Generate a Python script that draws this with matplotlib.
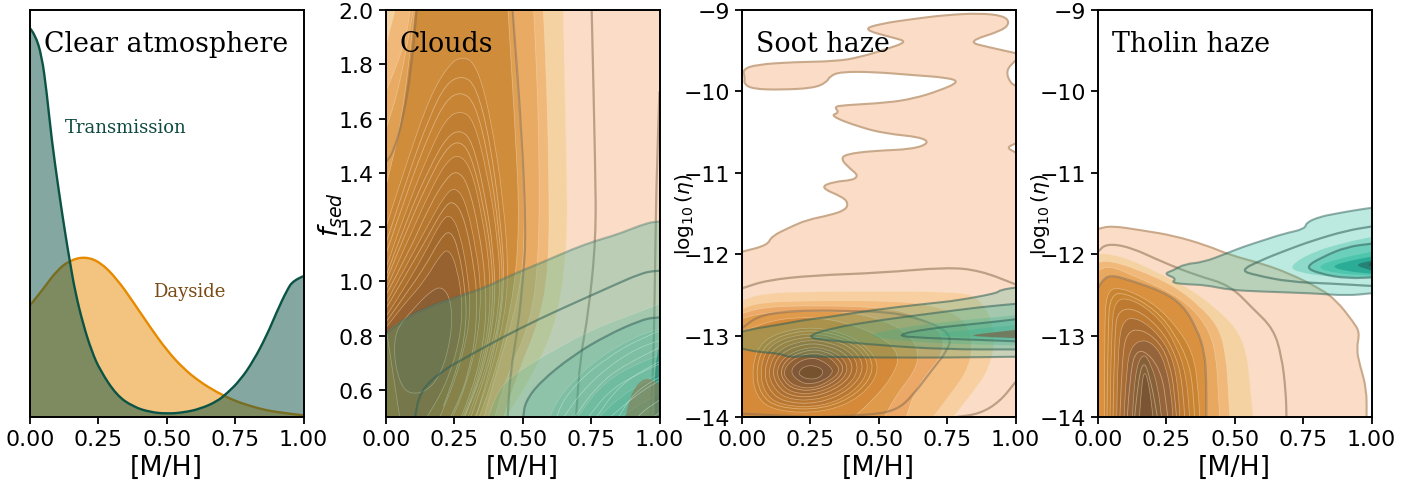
import numpy as np
import matplotlib
matplotlib.use('Agg')
import matplotlib.pyplot as plt
from matplotlib.path import Path
from matplotlib.patches import PathPatch

# left panel, posterior density by eye
mh_trans = [0,.018,.043,.061,.079,.104,.128,.146,.165,.195,.226,.256,.317,.378,.439,.5,.561,.622,.683,.72,.768,.817,.866,.902,.939,.963,1.0]
pdf_trans = [.955,.941,.888,.798,.683,.561,.454,.381,.308,.226,.161,.115,.053,.025,.012,.008,.011,.02,.038,.058,.09,.138,.201,.258,.311,.336,.346]
mh_day = [0,.049,.098,.146,.201,.256,.317,.378,.439,.5,.561,.622,.683,.744,.805,.866,.927,1.0]
pdf_day = [.274,.315,.36,.385,.394,.381,.34,.282,.221,.164,.119,.086,.061,.041,.027,.016,.01,.004]

xticks = [0,.25,.5,.75,1.0]
xticklabels = ['0.00','0.25','0.50','0.75','1.00']
cloud_ticks = [.6,.8,1.0,1.2,1.4,1.6,1.8,2.0]
haze_ticks = [-14,-13,-12,-11,-10,-9]

# clouds panel, dayside outlines
cloud_day = [
    [(-.05,.4),(-.05,2.1),(1.05,2.1),(1.05,.4)],
    [(.646,2.1),(.65,1.9),(.66,1.43),(.664,1.15),(.63,.87),(.55,.68),(.44,.5),(.38,.4),(-.05,.4),(-.05,2.1)],
    [(.57,2.1),(.585,1.8),(.596,1.4),(.596,1.05),(.56,.85),(.48,.66),(.40,.4),(-.05,.4),(-.05,1.8),(0,1.87),(.033,2.0),(.04,2.1)],
    [(.535,2.1),(.55,1.8),(.56,1.5),(.56,1.1),(.53,.85),(.44,.65),(.37,.4),(-.05,.4),(-.05,1.62),(0,1.7),(.06,1.85),(.087,1.97),(.095,2.1)],
    [(.46,2.1),(.49,1.6),(.51,1.2),(.49,.95),(.40,.65),(.33,.4),(-.05,.4),(-.05,1.5),(0,1.56),(.05,1.72),(.1,2),(.105,2.1)],
    [(.44,2.1),(.47,1.6),(.49,1.2),(.46,.9),(.38,.6),(.30,.4),(-.05,.4),(-.05,1.28),(0,1.35),(.06,1.6),(.105,2),(.11,2.1)],
    [(-.05,1.1),(0,1.2),(.08,1.45),(.16,1.68),(.23,1.8),(.28,1.83),(.33,1.8),(.38,1.62),(.43,1.3),(.45,1.0),(.42,.8),(.35,.55),(.28,.4),(-.05,.4)],
    [(-.05,.95),(0,1.05),(.08,1.28),(.16,1.48),(.22,1.6),(.27,1.63),(.32,1.6),(.37,1.4),(.41,1.15),(.42,.95),(.38,.72),(.3,.5),(.24,.4),(-.05,.4)],
    [(-.05,.88),(0,.97),(.08,1.15),(.16,1.33),(.22,1.44),(.265,1.47),(.31,1.42),(.35,1.25),(.38,1.05),(.38,.85),(.33,.62),(.26,.45),(.2,.4),(-.05,.4)],
    [(-.05,.83),(0,.92),(.07,1.05),(.15,1.2),(.21,1.31),(.25,1.35),(.29,1.3),(.33,1.12),(.35,.95),(.33,.75),(.27,.55),(.2,.42),(-.05,.4)],
    [(-.05,.8),(0,.87),(.07,.98),(.14,1.1),(.2,1.22),(.235,1.25),(.27,1.18),(.3,1.02),(.31,.88),(.28,.72),(.22,.55),(.16,.42),(-.05,.4)],
    [(0,.83),(.07,.92),(.14,1.0),(.2,1.1),(.23,1.12),(.26,1.05),(.28,.92),(.27,.78),(.22,.62),(.15,.5),(.05,.5)],
    [(.02,.8),(.1,.9),(.17,.97),(.21,.98),(.24,.92),(.24,.8),(.2,.65),(.13,.58),(.05,.6)],
]
cloud_fine = [
    [(0,1.14),(.08,1.39),(.16,1.61),(.22,1.73),(.28,1.76),(.33,1.72),(.38,1.52),(.42,1.22),(.435,.98),(.4,.75),(.33,.5),(.28,.4)],
    [(0,1.1),(.08,1.34),(.16,1.55),(.22,1.67),(.275,1.7),(.325,1.66),(.375,1.46),(.415,1.18),(.43,.96),(.39,.73),(.31,.5),(.26,.4)],
    [(0,1.02),(.08,1.24),(.16,1.42),(.22,1.53),(.27,1.56),(.315,1.52),(.36,1.33),(.395,1.1),(.4,.9),(.36,.68),(.28,.48),(.23,.4)],
    [(0,1.0),(.08,1.2),(.16,1.38),(.22,1.49),(.268,1.52),(.31,1.47),(.355,1.29),(.39,1.07),(.39,.87),(.345,.65),(.27,.46),(.21,.4)],
    [(0,.95),(.08,1.1),(.16,1.28),(.22,1.38),(.26,1.41),(.3,1.36),(.34,1.19),(.365,1.0),(.365,.82),(.32,.6),(.25,.44)],
    [(0,.9),(.07,1.02),(.15,1.16),(.21,1.27),(.245,1.3),(.285,1.24),(.32,1.07),(.335,.92),(.32,.73),(.26,.53),(.19,.42)],
    [(0,.85),(.07,.95),(.14,1.05),(.2,1.16),(.235,1.19),(.265,1.12),(.29,.97),(.295,.85),(.27,.7),(.21,.54)],
]
cloud_day_lines = [
    [(1.0,1.7),(.99,1.43),(.984,1.06),(.978,.69),(.966,.5),(.96,.4)],
    [(.752,2.05),(.752,2.0),(.765,1.43),(.768,1.16),(.74,.88),(.71,.72),(.695,.5),(.69,.4)],
    [(.463,2.05),(.463,2),(.496,1.55),(.512,1.18),(.502,1.02),(.484,.84),(.454,.66),(.445,.5),(.44,.4)],
    [(.115,2.05),(.112,2),(.094,1.795),(.063,1.6),(.027,1.476),(0,1.44),(-.03,1.43)],
]
cloud_trans = [
    [(0,.807),(.039,.844),(.137,.9),(.259,.942),(.368,.979),(.441,1.016),(.588,1.077),(.685,1.12),(.771,1.151),(.844,1.172),(.929,1.206),(.984,1.222),(1.03,1.222),(1.03,.4),(-.03,.4),(-.03,.8)],
    [(.37,.4),(.374,.5),(.41,.6),(.47,.66),(.62,.75),(.75,.82),(.88,.87),(.96,.9),(1.03,.93),(1.03,.4)],
    [(.5,.4),(.502,.5),(.509,.556),(.563,.629),(.685,.728),(.807,.801),(.929,.856),(.984,.868),(1.03,.868),(1.03,.4)],
    [(.58,.4),(.6,.52),(.67,.62),(.78,.72),(.9,.79),(.98,.82),(1.03,.83),(1.03,.4)],
    [(.68,.4),(.7,.5),(.78,.61),(.88,.68),(1.03,.74),(1.03,.4)],
    [(.76,.4),(.78,.5),(.85,.57),(.93,.62),(1.03,.68),(1.03,.4)],
    [(.84,.4),(.86,.5),(.93,.55),(1.03,.6),(1.03,.4)],
]
cloud_trans_fine = [
    [(.8,.4),(.82,.5),(.89,.56),(.97,.62),(1.03,.65)],
    [(.72,.4),(.74,.5),(.81,.59),(.9,.65),(1.03,.71)],
    [(.88,.4),(.9,.48),(.96,.54),(1.03,.58)],
    [(.92,.4),(.94,.47),(1.03,.54)],
    [(.64,.4),(.65,.5),(.72,.6),(.83,.7),(.95,.77),(1.03,.79)],
    [(.84,.4),(.85,.5),(.9,.58),(.98,.64),(1.03,.66)],
    [(.76,.4),(.77,.5),(.84,.6),(.93,.67),(1.03,.72)],
    [(.68,.4),(.69,.5),(.76,.6),(.86,.69),(1.03,.77)],
    [(.6,.4),(.62,.52),(.7,.63),(.81,.72),(.93,.79),(1.03,.83)],
]
cloud_trans_lines = [
    [(0,.807),(.039,.844),(.137,.9),(.259,.942),(.368,.979),(.441,1.016),(.588,1.077),(.685,1.12),(.771,1.151),(.844,1.172),(.929,1.206),(.984,1.222),(1.03,1.222)],
    [(.1,.4),(.106,.5),(.124,.593),(.198,.666),(.295,.721),(.417,.789),(.563,.863),(.71,.93),(.832,.985),(.929,1.028),(.984,1.04),(1.03,1.04)],
    [(.5,.4),(.502,.5),(.509,.556),(.563,.629),(.685,.728),(.807,.801),(.929,.856),(.984,.868),(1.03,.868)],
]
cloud_trans_edge = [(.985,.4),(.98,.55),(.985,.72),(1.03,.88),(1.03,.4)]
cloud_day_peak2 = [(.87,.4),(.875,.5),(.9,.6),(.95,.65),(1.0,.62),(1.03,.55),(1.03,.4)]

# soot panel
soot_outer = [(-.05,-12.0),(0,-11.97),(.093,-11.89),(.108,-11.78),(.175,-11.67),(.236,-11.58),(.322,-11.52),(.376,-11.46),(.389,-11.38),(.37,-11.3),(.285,-11.18),(.334,-11.11),(.407,-11.09),(.425,-11.03),(.395,-10.95),(.361,-10.83),(.382,-10.77),(.48,-10.73),(.626,-10.71),(.687,-10.63),(.65,-10.56),(.529,-10.52),(.431,-10.44),(.322,-10.3),(.356,-10.26),(.337,-10.19),(.37,-10.17),(.529,-10.14),(.626,-10.09),(.723,-9.99),(.796,-9.88),(.748,-9.83),(.626,-9.8),(.48,-9.76),(.361,-9.76),(.322,-9.81),(.309,-9.89),(.261,-9.96),(.139,-9.98),(.041,-9.97),(.007,-9.91),(.011,-9.83),(.002,-9.73),(.054,-9.67),(.188,-9.64),(.346,-9.63),(.431,-9.58),(.529,-9.48),(.605,-9.39),(.553,-9.34),(.441,-9.24),(.504,-9.17),(.626,-9.11),(.748,-9.06),(.87,-9.04),(.955,-9.07),(.979,-9.15),(.955,-9.25),(.821,-9.39),(.906,-9.46),(1.0,-9.53),(1.04,-9.56),(1.04,-9.62),(1.0,-9.62),(.965,-9.74),(.979,-9.89),(1.0,-9.93),(1.04,-9.95),(1.04,-10.65),(1.0,-10.64),(.967,-10.69),(1.0,-10.75),(1.04,-10.78),(1.04,-14.3),(-.05,-14.3)]
soot_day = [
    [(-.05,-12.6),(0,-12.57),(.078,-12.48),(.26,-12.46),(.504,-12.46),(.748,-12.46),(.87,-12.51),(.93,-12.95),(.906,-13.4),(.845,-13.69),(.772,-14),(.74,-14.3),(-.05,-14.3)],
    [(-.05,-12.7),(0,-12.67),(.066,-12.59),(.26,-12.57),(.504,-12.57),(.687,-12.61),(.821,-12.79),(.845,-13.16),(.821,-13.45),(.76,-13.73),(.699,-14),(.67,-14.3),(-.05,-14.3)],
    [(-.05,-12.76),(0,-12.73),(.078,-12.65),(.26,-12.63),(.504,-12.65),(.65,-12.75),(.74,-13.0),(.73,-13.25),(.68,-13.45),(.63,-13.7),(.6,-14),(.58,-14.3),(-.05,-14.3)],
    [(-.05,-12.82),(0,-12.79),(.078,-12.72),(.26,-12.69),(.45,-12.73),(.6,-12.93),(.65,-13.2),(.63,-13.45),(.57,-13.7),(.52,-14),(.5,-14.3),(-.05,-14.3)],
    [(-.05,-13.0),(0,-12.95),(.14,-12.78),(.32,-12.78),(.5,-12.98),(.58,-13.23),(.55,-13.5),(.49,-13.75),(.41,-14),(.39,-14.3),(-.05,-14.3)],
    [(.035,-13.4),(.07,-13.05),(.2,-12.9),(.33,-12.92),(.45,-13.1),(.51,-13.4),(.44,-13.75),(.3,-13.95),(.12,-13.93),(.05,-13.75)],
    [(.065,-13.4),(.1,-13.1),(.22,-12.97),(.33,-13),(.43,-13.15),(.47,-13.4),(.41,-13.7),(.29,-13.88),(.14,-13.86),(.08,-13.7)],
    [(.095,-13.42),(.13,-13.17),(.23,-13.05),(.32,-13.08),(.4,-13.2),(.43,-13.42),(.38,-13.65),(.27,-13.8),(.16,-13.78),(.11,-13.62)],
    [(.125,-13.43),(.155,-13.25),(.24,-13.14),(.31,-13.16),(.37,-13.27),(.39,-13.43),(.35,-13.6),(.26,-13.72),(.18,-13.7),(.14,-13.58)],
    [(.15,-13.44),(.18,-13.3),(.245,-13.21),(.3,-13.23),(.34,-13.32),(.36,-13.44),(.32,-13.56),(.26,-13.65),(.2,-13.63),(.165,-13.55)],
    [(.175,-13.45),(.2,-13.33),(.25,-13.27),(.29,-13.3),(.33,-13.4),(.33,-13.47),(.3,-13.55),(.25,-13.6),(.21,-13.57)],
    [(.205,-13.45),(.23,-13.37),(.27,-13.37),(.3,-13.43),(.285,-13.52),(.245,-13.54),(.215,-13.5)],
]
soot_fine = [
    [(.05,-13.4),(.085,-13.08),(.21,-12.93),(.33,-12.96),(.44,-13.12),(.49,-13.4),(.425,-13.72),(.295,-13.91),(.13,-13.89),(.065,-13.72)],
    [(.08,-13.41),(.115,-13.13),(.225,-13.01),(.325,-13.04),(.415,-13.17),(.45,-13.41),(.395,-13.67),(.28,-13.84),(.15,-13.82),(.095,-13.66)],
    [(.11,-13.42),(.14,-13.21),(.235,-13.09),(.315,-13.12),(.385,-13.23),(.41,-13.42),(.365,-13.62),(.265,-13.76),(.17,-13.74),(.125,-13.6)],
    [(.14,-13.43),(.168,-13.27),(.243,-13.17),(.305,-13.19),(.355,-13.29),(.375,-13.43),(.335,-13.58),(.26,-13.68),(.19,-13.66),(.152,-13.56)],
]
soot_day_lines = [
    [(-.03,-12.44),(0,-12.42),(.09,-12.32),(.26,-12.26),(.504,-12.23),(.748,-12.16),(.87,-12.2),(1,-12.37),(1.03,-12.4)],
    [(1.03,-13.45),(1,-13.57),(.943,-13.81),(.87,-13.96),(.784,-14),(.75,-14.05)],
    [(-.03,-12.95),(0,-12.91),(.054,-12.77),(.139,-12.71),(.26,-12.69),(.407,-12.7),(.529,-12.71),(.626,-12.77),(.723,-12.89),(.766,-13.02),(.748,-13.2),(.699,-13.4),(.626,-13.73),(.565,-13.92),(.456,-13.98),(.26,-14),(0,-13.96),(-.03,-13.95)],
]
soot_trans = [
    [(0,-12.95),(.054,-12.91),(.163,-12.85),(.224,-12.81),(.322,-12.77),(.431,-12.71),(.565,-12.65),(.699,-12.6),(.784,-12.57),(.931,-12.48),(.943,-12.44),(1,-12.41),(1.04,-12.41),(1.04,-13.25),(1,-13.26),(.748,-13.27),(.504,-13.27),(.285,-13.26),(.224,-13.25),(.175,-13.27),(.139,-13.22),(.054,-13.2),(0,-13.16),(-.04,-13.15),(-.04,-12.95)],
    [(.23,-13.02),(.322,-12.91),(.504,-12.81),(.687,-12.73),(.87,-12.65),(1,-12.61),(1.04,-12.6),(1.04,-13.17),(1,-13.17),(.748,-13.17),(.504,-13.12),(.322,-13.06)],
    [(.449,-13.0),(.565,-12.91),(.748,-12.83),(1,-12.75),(1.04,-12.75),(1.04,-13.12),(1,-13.12),(.748,-13.1),(.565,-13.06)],
    [(.553,-13.0),(.687,-12.91),(.87,-12.85),(1,-12.8),(1.04,-12.8),(1.04,-13.08),(1,-13.07),(.84,-13.05),(.67,-13.03)],
    [(.68,-13),(.82,-12.93),(1,-12.87),(1.04,-12.87),(1.04,-13.05),(.9,-13.03)],
]
soot_trans_edges = [True,True,False,True,False]
soot_trans_core = [(.82,-13),(.92,-12.96),(1,-12.93),(1.04,-12.93),(1.04,-13.03),(1,-13.03),(.92,-13.02)]

# tholin panel
tholin_day = [
    [(-.05,-11.72),(0,-11.69),(.049,-11.65),(.165,-11.71),(.274,-11.77),(.396,-11.89),(.482,-12.01),(.604,-12.12),(.701,-12.24),(.811,-12.42),(.872,-12.57),(.933,-12.83),(.957,-12.96),(.945,-13.16),(.957,-13.36),(.982,-13.65),(.982,-14),(.98,-14.3),(-.05,-14.3)],
    [(-.05,-12.03),(0,-12.0),(.03,-11.99),(.116,-12.06),(.238,-12.26),(.335,-12.42),(.433,-12.67),(.506,-12.91),(.543,-13.2),(.555,-13.57),(.567,-14),(.57,-14.3),(-.05,-14.3)],
    [(-.05,-12.12),(0,-12.1),(.043,-12.08),(.14,-12.18),(.274,-12.38),(.372,-12.63),(.445,-12.91),(.469,-13.28),(.476,-13.65),(.482,-14),(.485,-14.3),(-.05,-14.3)],
    [(-.05,-12.22),(0,-12.2),(.043,-12.14),(.14,-12.28),(.262,-12.46),(.348,-12.67),(.409,-12.95),(.433,-13.28),(.439,-13.65),(.445,-14),(.447,-14.3),(-.05,-14.3)],
    [(-.05,-12.45),(0,-12.42),(.012,-12.34),(.043,-12.25),(.116,-12.32),(.238,-12.46),(.311,-12.63),(.36,-12.91),(.39,-13.2),(.396,-13.57),(.396,-14),(.396,-14.3),(-.05,-14.3)],
    [(.024,-14.3),(.024,-12.95),(.03,-12.46),(.079,-12.4),(.189,-12.57),(.274,-12.83),(.348,-13.2),(.366,-13.65),(.372,-14),(.372,-14.3)],
    [(.043,-14.3),(.049,-12.95),(.061,-12.55),(.128,-12.55),(.226,-12.79),(.287,-13.12),(.323,-13.49),(.335,-14),(.335,-14.3)],
    [(.067,-14.3),(.073,-13.16),(.091,-12.79),(.152,-12.79),(.226,-13.0),(.274,-13.28),(.293,-13.65),(.299,-14),(.299,-14.3)],
    [(.091,-14.3),(.104,-13.4),(.122,-13.12),(.171,-13.04),(.22,-13.16),(.25,-13.4),(.268,-13.73),(.274,-14),(.274,-14.3)],
    [(.122,-14.3),(.134,-13.45),(.165,-13.2),(.195,-13.36),(.22,-13.65),(.232,-14),(.232,-14.3)],
    [(.146,-14.3),(.159,-13.61),(.171,-13.41),(.189,-13.65),(.201,-14),(.201,-14.3)],
]
tholin_fine = [
    [(.033,-14),(.036,-12.9),(.045,-12.5),(.1,-12.47),(.21,-12.68),(.28,-12.97),(.335,-13.35),(.35,-13.75),(.353,-14)],
    [(.055,-14),(.06,-12.95),(.075,-12.68),(.14,-12.67),(.225,-12.9),(.28,-13.2),(.31,-13.57),(.317,-14)],
    [(.08,-14),(.088,-13.28),(.105,-12.95),(.16,-12.92),(.225,-13.08),(.262,-13.34),(.28,-13.69),(.287,-14)],
    [(.107,-14),(.118,-13.42),(.143,-13.16),(.195,-13.25),(.235,-13.5),(.25,-13.85),(.255,-14)],
    [(.134,-14),(.147,-13.53),(.168,-13.3),(.19,-13.52),(.21,-13.85),(.217,-14)],
]
tholin_day_lines = [
    [(-.03,-12.0),(0,-11.97),(.03,-11.87),(.116,-11.91),(.238,-12.1),(.36,-12.26),(.482,-12.38),(.567,-12.67),(.64,-12.91),(.671,-13.24),(.687,-13.69),(.689,-14),(.689,-14.1)],
    [(-.03,-12.45),(0,-12.42),(.012,-12.34),(.043,-12.25),(.116,-12.32),(.238,-12.46),(.311,-12.63),(.36,-12.91),(.39,-13.2),(.396,-13.57),(.396,-14),(.396,-14.1)],
]
tholin_trans = [
    [(.241,-12.24),(.274,-12.2),(.317,-12.12),(.384,-12.1),(.47,-11.99),(.53,-11.91),(.604,-11.83),(.677,-11.75),(.756,-11.69),(.762,-11.61),(.811,-11.54),(.872,-11.5),(.939,-11.46),(1,-11.43),(1.03,-11.43),(1.03,-12.48),(1,-12.48),(.909,-12.51),(.787,-12.48),(.604,-12.46),(.482,-12.44),(.396,-12.38),(.323,-12.37),(.268,-12.35),(.287,-12.3)],
    [(.701,-12.14),(.787,-11.97),(.909,-11.85),(1,-11.79),(1.03,-11.79),(1.03,-12.28),(1,-12.28),(.848,-12.28),(.726,-12.22)],
    [(.756,-12.16),(.823,-12.03),(.909,-11.91),(1,-11.87),(1.03,-11.87),(1.03,-12.28),(.909,-12.3),(.811,-12.24)],
    [(.793,-12.16),(.872,-12.06),(1,-11.97),(1.03,-11.97),(1.03,-12.26),(1,-12.26),(.872,-12.24)],
    [(.848,-12.15),(.921,-12.08),(1,-12.03),(1.03,-12.03),(1.03,-12.24),(1,-12.24),(.909,-12.21)],
    [(.933,-12.13),(1,-12.08),(1.03,-12.08),(1.03,-12.2),(1,-12.2)],
    [(.976,-12.12),(1.03,-12.08),(1.03,-12.2)],
]
tholin_trans_lines = [
    [(.521,-12.2),(.592,-12.08),(.689,-11.95),(.787,-11.83),(.909,-11.71),(1,-11.66),(1.03,-11.65),(1.03,-12.39),(1,-12.39),(.848,-12.36),(.701,-12.34),(.579,-12.26)],
    [(.756,-12.16),(.823,-12.03),(.909,-11.91),(1,-11.87),(1.03,-11.87),(1.03,-12.28),(.909,-12.3),(.811,-12.24)],
]

peach = '#fbdcc6'
orange_cols = [peach,'#f5d2a2','#f0b97a','#e9ab63','#e0a054','#cf8c3b','#c78435','#c07e32','#b87830','#ae702d','#a2682c','#986230','#8c5e34']
soot_cols = ['#f8cfa0','#f3bd80','#eba866','#e09a4c','#d48a38','#c57f30','#b87630','#ac6e31','#9e6632','#906035','#815838','#76522f']
tholin_cols = [peach,'#f5d2a2','#f0b97a','#e8a860','#d9913f','#c98432','#bd7a30','#a96c33','#96643a','#866038','#7b5433']
teal = '#22b89a'
teal_soft = '#2aae8f'
teal_line = '#2e5f57'
day_line = '#8a6d50'
edge_light = '#f6dfc0'


def smooth(pts, box, closed=True):
    # quadratic curve through the midpoints so the hand read outlines are not jagged,
    # points on or past the axes frame stay sharp
    p = np.array(pts, dtype=float)
    x0, x1, y0, y1 = box
    sharp = (p[:, 0] <= x0) | (p[:, 0] >= x1) | (p[:, 1] <= y0) | (p[:, 1] >= y1)
    n = len(p)
    if closed:
        verts = [(p[-1]+p[0])/2]
        codes = [Path.MOVETO]
        idx = range(n)
    else:
        verts = [p[0]]
        codes = [Path.MOVETO]
        idx = range(1, n-1)
    for i in idx:
        end = (p[i]+p[(i+1) % n])/2
        if not closed and i == n-2:
            end = p[-1]
        verts += [p[i], end]
        if sharp[i]:
            codes += [Path.LINETO, Path.LINETO]
        else:
            codes += [Path.CURVE3, Path.CURVE3]
    return Path(verts, codes)


def fill_outline(ax, pts, box, color, alpha=1.0, edge='none', lw=0.0, ealpha=None):
    ax.add_patch(PathPatch(smooth(pts, box), facecolor=color, edgecolor='none', alpha=alpha, lw=0))
    if edge != 'none':
        ax.add_patch(PathPatch(smooth(pts, box), fill=False, edgecolor=edge, lw=lw, alpha=ealpha))


def draw_line(ax, pts, box, color=day_line, lw=1.6, alpha=0.55, closed=False):
    ax.add_patch(PathPatch(smooth(pts, box, closed), fill=False, edgecolor=color, lw=lw, alpha=alpha))


plt.rcParams['font.size'] = 15.8
W, H = 1422, 485
fig = plt.figure(figsize=(W/100, H/100), dpi=100)
lefts = [30, 386, 742, 1098]
axes = [fig.add_axes([l/W, (H-418)/H, 273.5/W, 407/H]) for l in lefts]
box_clear = (0, 1, 0, 1)
box_cloud = (0, 1, .5, 2)
box_haze = (0, 1, -14, -9)

ax = axes[0]
for xs, ys, c in [(mh_day, pdf_day, '#e68a00'), (mh_trans, pdf_trans, '#0b5345')]:
    pts = list(zip(xs, ys))
    fill_outline(ax, [(0, 0)]+pts+[(1, 0)], box_clear, c, alpha=0.5)
    draw_line(ax, pts, box_clear, color=c, lw=1.7, alpha=1)
ax.set_ylim(0, 1)
ax.set_yticks([])
ax.text(.128, .70, 'Transmission', family='DejaVu Serif', fontsize=13, color='#0f4a40', transform=ax.transAxes)
ax.text(.45, .297, 'Dayside', family='DejaVu Serif', fontsize=13, color='#7a4a14', transform=ax.transAxes)

ax = axes[1]
for pts, c in zip(cloud_day, orange_cols):
    fill_outline(ax, pts, box_cloud, c, edge=edge_light, lw=0.5, ealpha=0.5)
for pts in cloud_fine:
    draw_line(ax, pts, box_cloud, color=edge_light, lw=0.6, alpha=0.5)
for pts in cloud_day_lines:
    draw_line(ax, pts, box_cloud)
for i, pts in enumerate(cloud_trans):
    fill_outline(ax, pts, box_cloud, teal_soft, alpha=0.3 if i == 0 else 0.16, edge='#d8efe6', lw=0.4, ealpha=0.3)
fill_outline(ax, cloud_trans_edge, box_cloud, '#127a6e', alpha=0.55)
fill_outline(ax, cloud_day_peak2, box_cloud, '#8a7a50', alpha=0.6)
for pts in cloud_trans_fine:
    draw_line(ax, pts, box_cloud, color='#d8efe6', lw=0.5, alpha=0.5)
for i, pts in enumerate(cloud_trans_lines):
    draw_line(ax, pts, box_cloud, color=teal_line, alpha=0.35 if i == 0 else 0.55)
ax.set_ylim(.5, 2)
ax.set_yticks(cloud_ticks)
ax.set_ylabel(r'$f_{sed}$', fontsize=19.4)
ax.yaxis.set_label_coords(-.15, .5)

ax = axes[2]
fill_outline(ax, soot_outer, box_haze, peach, edge='#c9a98a', lw=1.5)
for pts, c in zip(soot_day, soot_cols):
    fill_outline(ax, pts, box_haze, c, edge=edge_light, lw=0.5, ealpha=0.5)
for pts in soot_fine:
    draw_line(ax, pts, box_haze, color=edge_light, lw=0.6, alpha=0.5, closed=True)
for pts in soot_day_lines:
    draw_line(ax, pts, box_haze)
for pts, e in zip(soot_trans, soot_trans_edges):
    if e:
        fill_outline(ax, pts, box_haze, teal_soft, alpha=0.24, edge=teal_line, lw=1.5, ealpha=0.55)
    else:
        fill_outline(ax, pts, box_haze, teal_soft, alpha=0.24)
fill_outline(ax, soot_trans_core, box_haze, '#7a6248', alpha=0.7)

ax = axes[3]
for i, (pts, c) in enumerate(zip(tholin_day, tholin_cols)):
    if i == 0:
        fill_outline(ax, pts, box_haze, c, edge='#c9a98a', lw=1.5)
    else:
        fill_outline(ax, pts, box_haze, c, edge=edge_light, lw=0.5, ealpha=0.5)
for pts in tholin_fine:
    draw_line(ax, pts, box_haze, color=edge_light, lw=0.6, alpha=0.5)
for pts in tholin_day_lines:
    draw_line(ax, pts, box_haze)
tcols = [(teal, .3), (teal, .3), (teal, .3), (teal, .4), ('#159c88', .6), ('#25706a', .7), ('#2f5f5a', .9)]
for j, (pts, tc) in enumerate(zip(tholin_trans, tcols)):
    if j == 0:
        fill_outline(ax, pts, box_haze, tc[0], alpha=tc[1], edge=teal_line, lw=1.5, ealpha=0.5)
    else:
        fill_outline(ax, pts, box_haze, tc[0], alpha=tc[1])
for pts in tholin_trans_lines:
    draw_line(ax, pts, box_haze, color=teal_line, alpha=0.55, closed=True)

for ax in axes[2:]:
    ax.set_ylim(-14, -9)
    ax.set_yticks(haze_ticks)
    ax.set_ylabel(r'$\log_{10}(\eta)$', fontsize=14.5)
    ax.yaxis.set_label_coords(-.168, .5)

titles = ['Clear atmosphere', 'Clouds', 'Soot haze', 'Tholin haze']
for ax, t in zip(axes, titles):
    ax.set_xlim(0, 1)
    ax.set_xticks(xticks)
    ax.set_xticklabels(xticklabels)
    ax.set_xlabel('[M/H]', fontsize=19.4, labelpad=3.5)
    ax.tick_params(width=1.3, length=5.2)
    for s in ax.spines.values():
        s.set_linewidth(1.4)
    ax.text(.05, .9, t, family='DejaVu Serif', fontsize=19.4, transform=ax.transAxes)

fig.savefig('out.png', dpi=100)
